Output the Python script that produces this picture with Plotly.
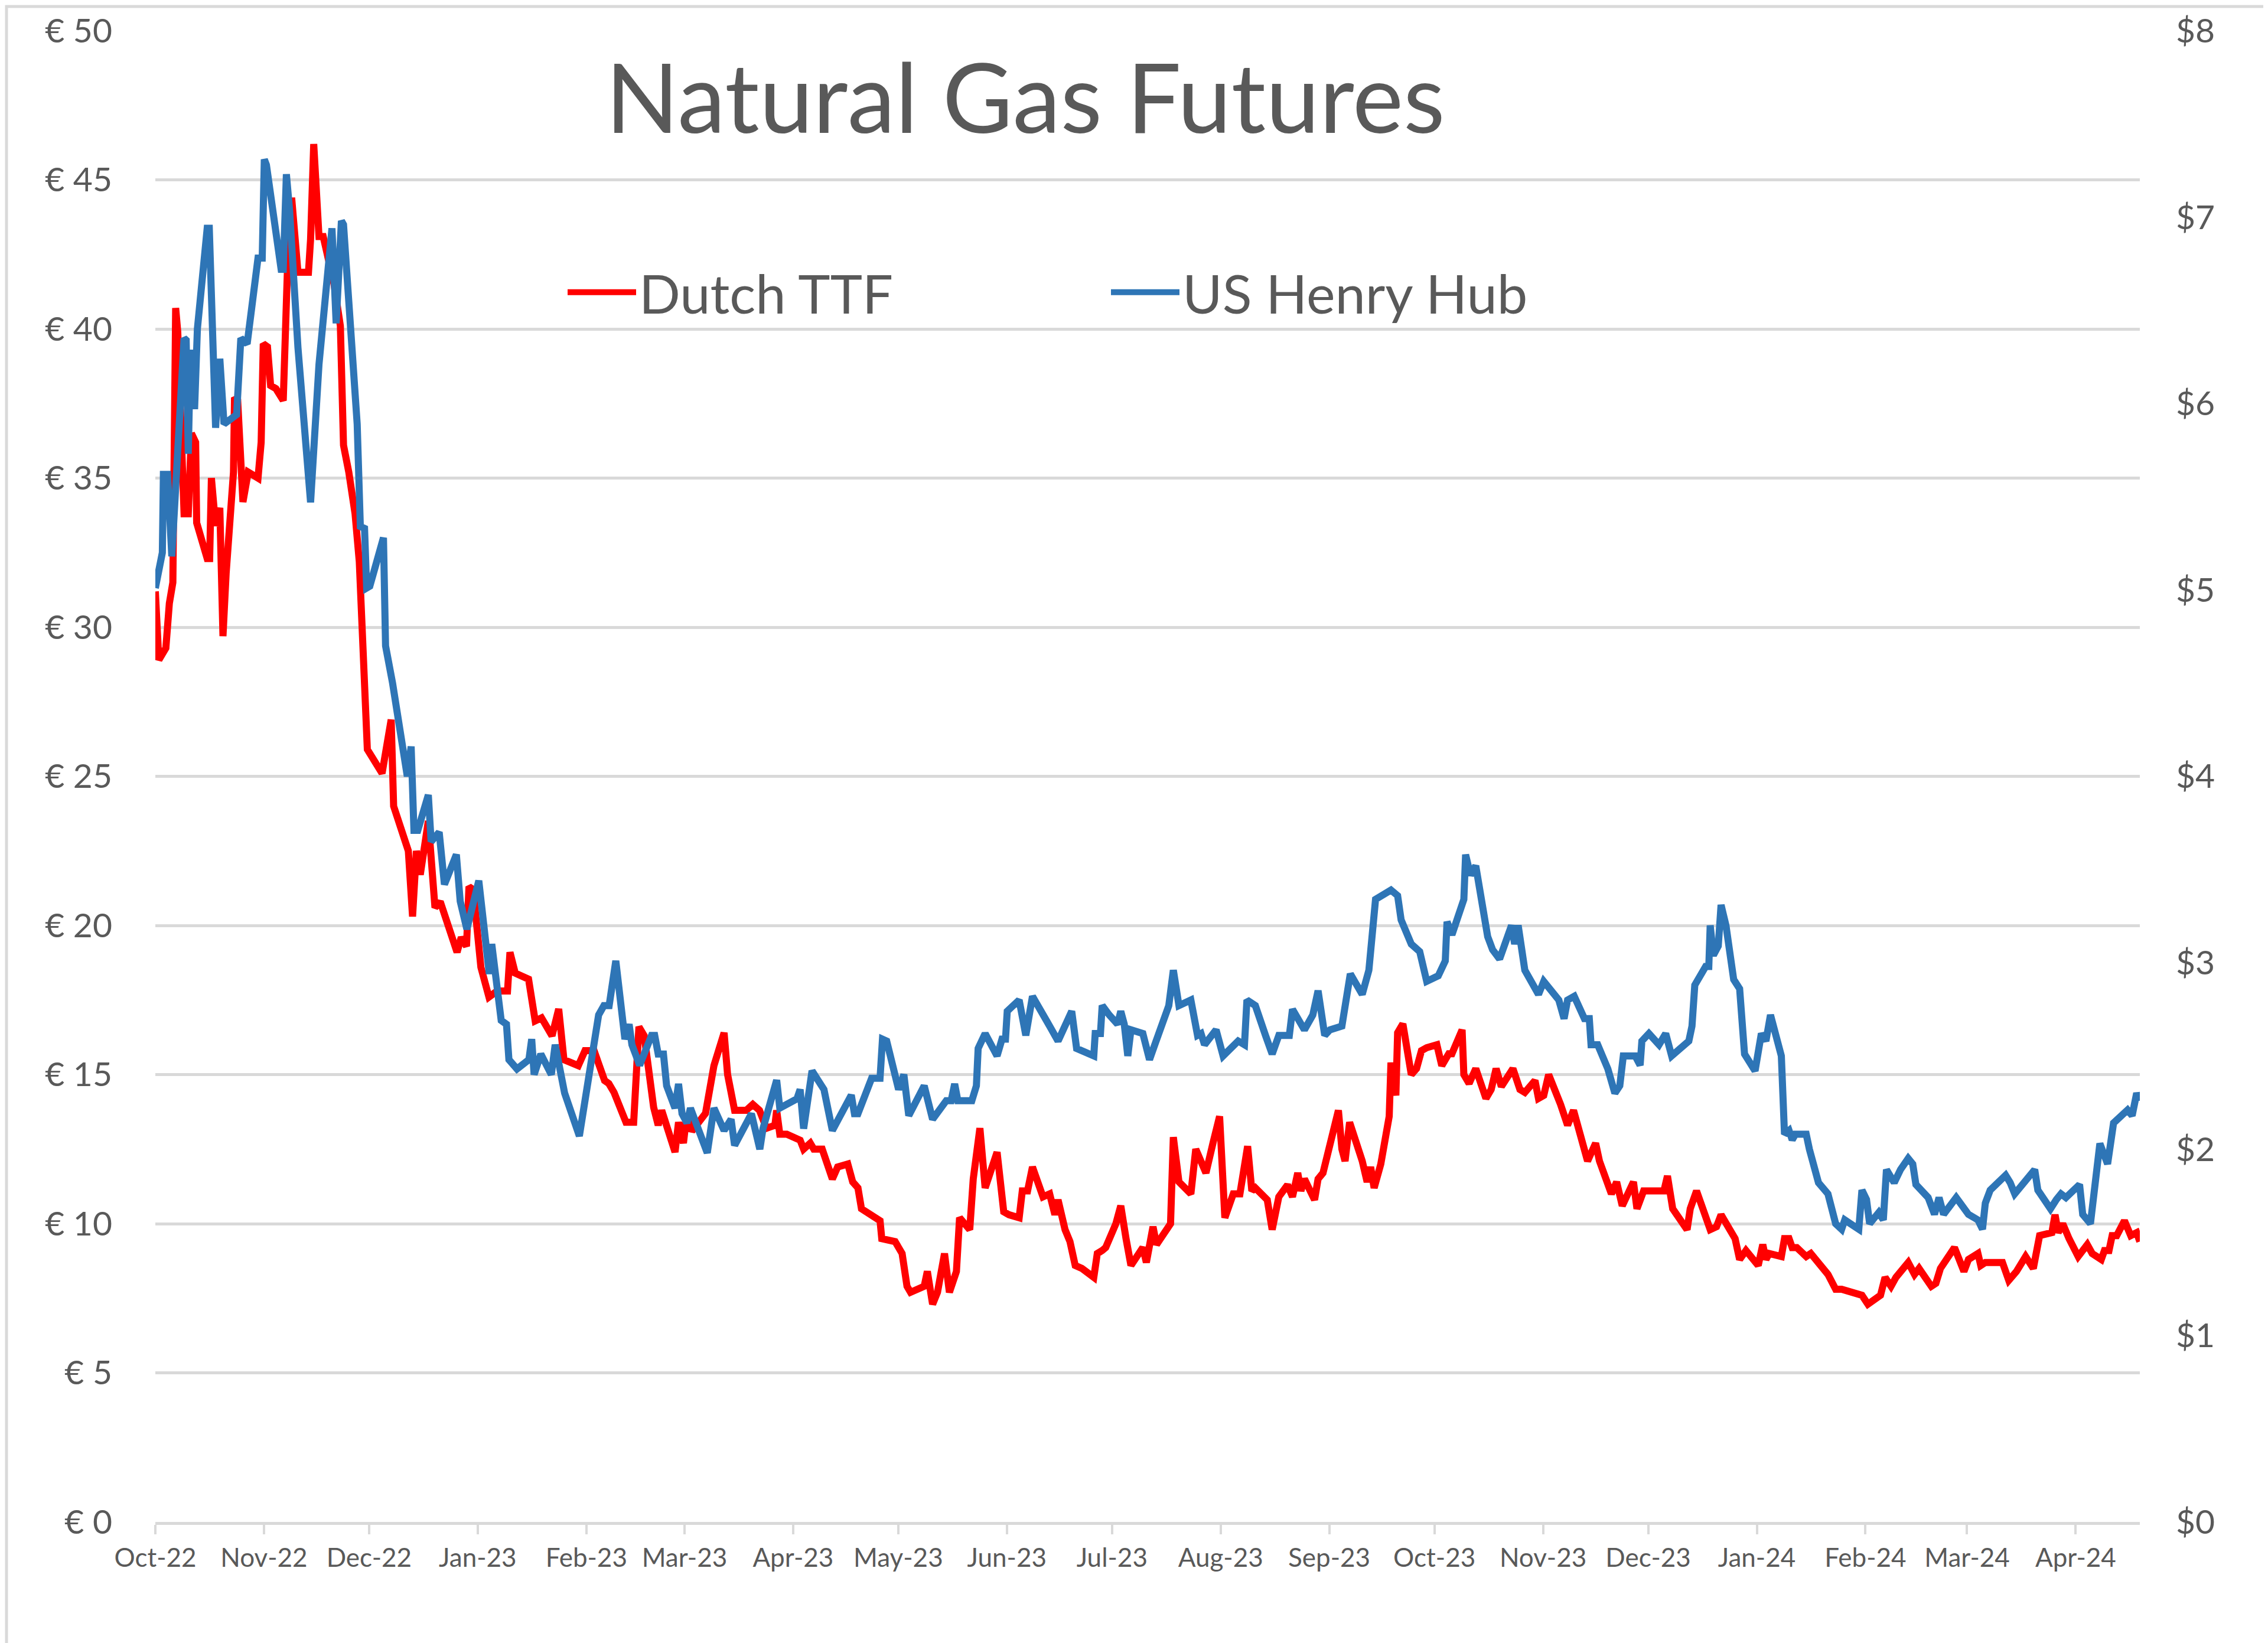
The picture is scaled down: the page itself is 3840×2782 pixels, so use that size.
import pandas as pd
import plotly.graph_objects as go

# ---- Data ----
start_date = "2022-10-01"

# Dutch TTF front-month, EUR/MWh : (days since 2022-10-01, value)
ttf_points = [
    (0, 31.2), (1, 28.9), (3, 29.3), (4, 30.8), (5, 31.5), (5.8, 40.7), (6.4, 39.9), (7.6, 36.1),
    (8.2, 33.8), (9.4, 33.8), (10.3, 36.5), (11.5, 36.2), (11.8, 33.5), (14.8, 32.3), (15.5, 32.3),
    (16, 35), (17.2, 33.4), (18.4, 34), (19.3, 29.7), (20.2, 31.8), (22.3, 35.2), (22.6, 37.7),
    (23.5, 37.6), (25, 34.2), (26.5, 35.2), (29.3, 35), (30.2, 36.2), (30.8, 39.5), (32, 39.4),
    (32.9, 38.1), (34.4, 38), (36.5, 37.6), (37.7, 42), (38.9, 44.4), (40.7, 41.9), (43.7, 41.9),
    (44.3, 43), (45.2, 46.2), (46.7, 43.1), (47.9, 43.1), (49.7, 42.3), (51, 41.5), (52.8, 40.1),
    (53.7, 36.1), (55.2, 35.2), (57, 33.8), (58.2, 32.2), (59.4, 29.3), (60.5, 25.9), (64.7, 25.1),
    (67.3, 26.9), (68, 24), (72.2, 22.5), (73.4, 20.3), (74.5, 22.5), (75.6, 21.7), (77.9, 23.5),
    (79.8, 20.6), (81.3, 20.8), (86.1, 19.1), (87.3, 19.6), (88.8, 19.3), (89.5, 21.3), (90.7, 21.2),
    (92.9, 18.6), (95.2, 17.6), (97.5, 17.8), (100.5, 17.8), (101.2, 19.1), (102.7, 18.4),
    (106.5, 18.2), (108.4, 16.8), (110.2, 16.9), (113.2, 16.3), (115.1, 17.2), (116.6, 15.5),
    (120.7, 15.3), (122.6, 15.8), (125.2, 15.8), (128.2, 14.8), (129.4, 14.7), (130.9, 14.4),
    (134.3, 13.4), (136.5, 13.4), (138, 16.6), (139.5, 16.3), (142.2, 13.9), (143.5, 13.3),
    (144.5, 13.8), (148.3, 12.4), (149.3, 13.4), (150.7, 12.7), (151.7, 13.7), (153.1, 13.1),
    (155.6, 13.5), (157, 13.7), (159.4, 15.3), (162.3, 16.4), (163.3, 15), (165.3, 13.8),
    (168.6, 13.8), (170.5, 14), (172.4, 13.8), (174.4, 13.2), (176.8, 13.3), (177.3, 13.8),
    (178.2, 13), (180.2, 13), (184, 12.8), (185, 12.5), (186.9, 12.7), (187.9, 12.5), (190.3, 12.5),
    (191.8, 12), (193.2, 11.5), (194.7, 11.9), (197.6, 12), (199, 11.4), (200.5, 11.2), (201.5, 10.5),
    (204.4, 10.3), (206.8, 10.1), (207.3, 9.5), (211.1, 9.4), (213.1, 9), (214.5, 7.9), (215.5, 7.7),
    (219.4, 7.9), (220.3, 8.4), (221.8, 7.3), (223.2, 7.7), (225.2, 9), (226.6, 7.7), (228.6, 8.4),
    (229.5, 10.2), (232.4, 9.8), (233.4, 11.5), (235.3, 13.2), (236.8, 11.2), (240.2, 12.4),
    (242.1, 10.4), (243.6, 10.3), (246.5, 10.2), (247.4, 11.1), (248.9, 11.1), (250.3, 11.9),
    (253.3, 10.9), (255.2, 11), (256.7, 10.3), (257.6, 10.8), (259.6, 9.8), (261, 9.4), (262.5, 8.6),
    (264.4, 8.5), (267.8, 8.2), (268.8, 9), (270.2, 9.1), (271.2, 9.2), (274.1, 10), (275.5, 10.6),
    (277, 9.5), (278.4, 8.6), (281.8, 9.2), (282.8, 8.7), (284.7, 9.9), (285.7, 9.3), (289.7, 10),
    (290.5, 12.9), (292.1, 11.4), (295.5, 11), (296.9, 12.5), (299.8, 11.7), (301.8, 12.7),
    (303.7, 13.6), (305.2, 10.2), (307.6, 11), (309.5, 11), (311.7, 12.6), (312.9, 11.1),
    (313.9, 11.2), (317.3, 10.8), (318.7, 9.8), (320.6, 10.9), (323.1, 11.3), (324.5, 10.9),
    (326, 11.7), (326.9, 11.1), (327.9, 11.5), (330.8, 10.8), (331.8, 11.5), (333.2, 11.7),
    (334.7, 12.4), (337.6, 13.8), (338.6, 12.5), (339.5, 12.1), (340.8, 13.4), (342.9, 12.7),
    (344.4, 12.1), (345.8, 11.4), (346.8, 11.9), (347.8, 11.2), (349.7, 12), (352.1, 13.6),
    (352.6, 15.4), (354, 14.3), (354.5, 16.4), (356, 16.7), (358.4, 15), (359.9, 15.2), (361.3, 15.8),
    (362.8, 15.9), (365.7, 16), (367.1, 15.3), (369.1, 15.7), (370, 15.7), (372.9, 16.5), (373.4, 15),
    (374.9, 14.7), (376.8, 15.2), (379.7, 14.2), (381.2, 14.5), (382.6, 15.2), (384.1, 14.6),
    (387.4, 15.2), (389.4, 14.5), (390.8, 14.4), (393.7, 14.8), (394.7, 14.2), (396.2, 14.3),
    (397.6, 15), (401, 14), (403, 13.3), (404.7, 13.8), (407.3, 12.7), (408.7, 12.1), (411, 12.7),
    (412.1, 12.1), (415.5, 11), (417, 11.4), (418.6, 10.6), (421.8, 11.4), (422.8, 10.5),
    (424.7, 11.1), (430.5, 11.1), (431.5, 11.6), (433, 10.5), (437.1, 9.8), (438, 10.5),
    (439.8, 11.1), (443.7, 9.8), (445.5, 9.9), (446.8, 10.3), (450.8, 9.5), (452.1, 8.8),
    (453.9, 9.1), (457.4, 8.6), (458.7, 9.3), (459.6, 8.8), (460.5, 9), (464, 8.9), (464.9, 9.5),
    (466.2, 9.5), (467.1, 9.2), (468.4, 9.2), (471.1, 8.9), (472.4, 9), (475.1, 8.6), (477.3, 8.3),
    (479.5, 7.8), (481.2, 7.8), (487, 7.6), (488.7, 7.3), (492.3, 7.6), (493.6, 8.2), (495.3, 7.9),
    (496.7, 8.2), (500.2, 8.7), (502, 8.3), (503.3, 8.5), (506.8, 7.9), (508.1, 8), (509.4, 8.5),
    (513.4, 9.2), (516.1, 8.4), (517.4, 8.8), (520.1, 9), (520.9, 8.6), (522.2, 8.7), (527.1, 8.7),
    (528.9, 8.1), (531.1, 8.4), (533.7, 8.9), (535.9, 8.5), (537.7, 9.6), (541.2, 9.7), (542.1, 10.3),
    (543, 9.7), (544.3, 10), (546.1, 9.5), (548.7, 8.9), (551.3, 9.3), (552.7, 9), (555.3, 8.8),
    (556.2, 9.1), (557.5, 9.1), (558.4, 9.6), (559.7, 9.6), (561.9, 10.1), (563.7, 9.6),
    (565.4, 9.7), (566.3, 9.4),
]

# US Henry Hub front-month, USD/MMBtu : (days since 2022-10-01, value)
hh_points = [
    (0, 5.01), (2, 5.2), (2.3, 5.62), (3.5, 5.62), (4.7, 5.18), (8.2, 6.35), (8.8, 6.34), (9.4, 5.73),
    (10, 6.27), (11, 6.27), (11.2, 5.97), (12, 6.4), (14.8, 6.94), (15.4, 6.94), (17.2, 5.87),
    (18.4, 6.24), (19.6, 5.89), (23.2, 5.94), (24.4, 6.35), (26.2, 6.32), (29.3, 6.78), (30.5, 6.78),
    (31.1, 7.31), (31.7, 7.28), (35.9, 6.72), (36.5, 6.72), (37.4, 7.23), (38.3, 7.04), (40.7, 6.3),
    (44.3, 5.47), (46.7, 6.21), (50.4, 6.94), (51.6, 6.43), (53.1, 6.98), (53.7, 6.96), (54.9, 6.59),
    (57.6, 5.89), (58.5, 5.34), (59.7, 5.33), (60.3, 5.01), (61.2, 5.02), (65.1, 5.28), (65.7, 4.7),
    (67.7, 4.5), (71.9, 4.0), (73, 4.16), (73.8, 3.71), (74.9, 3.71), (77.9, 3.9), (78.7, 3.65),
    (81, 3.7), (82.5, 3.42), (85.9, 3.58), (87, 3.33), (88.9, 3.18), (92.3, 3.44), (94.5, 3.1),
    (95.3, 2.94), (96, 3.1), (98.7, 2.69), (100.2, 2.67), (100.9, 2.48), (103.2, 2.43), (106.6, 2.48),
    (107.4, 2.59), (108.1, 2.4), (110, 2.51), (113, 2.4), (114.1, 2.56), (116.8, 2.3), (121, 2.07),
    (124.3, 2.46), (126.5, 2.72), (128, 2.77), (129.5, 2.77), (131.4, 3.01), (134, 2.59),
    (135.2, 2.67), (136, 2.56), (138.2, 2.45), (141.6, 2.61), (142.5, 2.61), (143.5, 2.51),
    (145, 2.51), (145.9, 2.34), (148.3, 2.22), (149.3, 2.35), (150.3, 2.19), (151.7, 2.14),
    (152.7, 2.22), (157.5, 1.98), (159.4, 2.22), (162.3, 2.1), (164.3, 2.16), (165.3, 2.02),
    (170.1, 2.19), (172.5, 2.0), (173.4, 2.11), (175.9, 2.26), (177.3, 2.37), (178.2, 2.22),
    (180.2, 2.24), (183.1, 2.27), (184, 2.32), (185, 2.11), (187.4, 2.42), (190.8, 2.32),
    (193.2, 2.1), (198.6, 2.29), (199.5, 2.19), (200.5, 2.19), (204.4, 2.38), (206.8, 2.38),
    (207.5, 2.59), (208.7, 2.58), (212.1, 2.32), (213.6, 2.4), (215, 2.18), (219.4, 2.34),
    (221.8, 2.16), (225.7, 2.26), (227.1, 2.26), (228.1, 2.35), (229, 2.26), (233, 2.26),
    (234.3, 2.34), (234.8, 2.54), (236.8, 2.62), (240.2, 2.5), (241.6, 2.59), (242.6, 2.59),
    (243.1, 2.74), (246.5, 2.8), (248.4, 2.61), (250.3, 2.82), (255.2, 2.66), (257.6, 2.58),
    (261.5, 2.74), (262.9, 2.54), (267.8, 2.5), (268.2, 2.62), (269.7, 2.62), (270.2, 2.77),
    (272.2, 2.72), (274.6, 2.67), (275.5, 2.74), (276.5, 2.67), (277.5, 2.5), (278.4, 2.64),
    (281.8, 2.62), (283.7, 2.48), (285.2, 2.56), (289.2, 2.77), (290.5, 2.96), (292.1, 2.77),
    (295.5, 2.8), (297.4, 2.61), (298.4, 2.62), (299.4, 2.56), (302.7, 2.64), (304.7, 2.5),
    (309, 2.58), (310.8, 2.56), (311.5, 2.8), (313.9, 2.77), (316.8, 2.61), (318.7, 2.51),
    (320.6, 2.61), (323.6, 2.61), (324.5, 2.75), (326, 2.7), (327.9, 2.64), (330.3, 2.72),
    (331.8, 2.85), (333.7, 2.61), (335.2, 2.64), (338.6, 2.66), (341, 2.94), (344.4, 2.83),
    (346.3, 2.96), (348.2, 3.34), (352.6, 3.39), (354.5, 3.36), (355.5, 3.23), (358.4, 3.1),
    (360.8, 3.06), (362.8, 2.9), (366.1, 2.93), (368.1, 3.01), (368.6, 3.22), (370, 3.15),
    (373.4, 3.34), (373.9, 3.58), (375.3, 3.47), (376.8, 3.52), (380.2, 3.14), (381.6, 3.07),
    (383.6, 3.02), (387, 3.2), (387.9, 3.1), (388.9, 3.2), (390.8, 2.96), (394.7, 2.83),
    (396.2, 2.9), (400.5, 2.8), (402, 2.7), (403, 2.8), (404.9, 2.82), (407.8, 2.7), (409.2, 2.7),
    (409.7, 2.56), (411.6, 2.56), (414.5, 2.43), (416.5, 2.3), (417.9, 2.34), (418.9, 2.5),
    (422.3, 2.5), (423.7, 2.45), (424.2, 2.58), (426.2, 2.62), (429.1, 2.56), (431, 2.62),
    (432.7, 2.5), (437.6, 2.58), (438.5, 2.66), (439.3, 2.88), (442.4, 2.98), (443.3, 2.98),
    (443.7, 3.2), (444.6, 3.04), (446, 3.09), (446.8, 3.31), (448.2, 3.2), (450.4, 2.91),
    (452.1, 2.86), (453.5, 2.51), (456.5, 2.42), (458.3, 2.62), (459.6, 2.58), (460.9, 2.72),
    (464, 2.5), (464.9, 2.08), (466.2, 2.1), (467.1, 2.05), (468, 2.08), (471.1, 2.08), (472, 2.0),
    (474.6, 1.82), (477.3, 1.76), (479.5, 1.6), (481.2, 1.57), (482.1, 1.62), (486.1, 1.57),
    (487, 1.78), (488.3, 1.73), (489.2, 1.6), (491.8, 1.66), (493.1, 1.62), (494, 1.89),
    (496.2, 1.82), (498, 1.89), (500.2, 1.95), (501.5, 1.92), (502.4, 1.81), (505.9, 1.74),
    (507.7, 1.65), (509, 1.74), (510.3, 1.65), (513.9, 1.74), (517.4, 1.65), (520.1, 1.62),
    (521.4, 1.57), (522.2, 1.71), (523.6, 1.78), (528, 1.86), (529.3, 1.82), (530.6, 1.76),
    (536.3, 1.89), (537.2, 1.78), (540.8, 1.68), (542.5, 1.73), (543.8, 1.76), (545.2, 1.74),
    (549.1, 1.81), (550, 1.65), (552.2, 1.6), (554.9, 2.03), (557.1, 1.92), (558.8, 2.14),
    (562.8, 2.21), (564.1, 2.18), (565.4, 2.3), (566.3, 2.26),
]

month_ticks = pd.date_range("2022-10-01", "2024-04-01", freq="MS")
eur_ticks = [0, 5, 10, 15, 20, 25, 30, 35, 40, 45, 50]
eur_labels = ["€ 0", "€ 5", "€ 10", "€ 15", "€ 20", "€ 25", "€ 30", "€ 35", "€ 40", "€ 45", "€ 50"]
usd_ticks = [0, 1, 2, 3, 4, 5, 6, 7, 8]
usd_labels = ["$0", "$1", "$2", "$3", "$4", "$5", "$6", "$7", "$8"]

series_names = ["Dutch TTF", "US Henry Hub"]
series_colors = ["#FF0000", "#2E75B6"]

# ---- Build ----
t0 = pd.Timestamp(start_date)
ttf_days, ttf_eur = zip(*ttf_points)
hh_days, hh_usd = zip(*hh_points)
ttf_dates = t0 + pd.to_timedelta(list(ttf_days), unit="D")
hh_dates = t0 + pd.to_timedelta(list(hh_days), unit="D")

FONT = "Lato"
GREY_TXT = "#595959"
GRID = "#D9D9D9"
LW = 12

fig = go.Figure()
fig.add_trace(go.Scatter(
    x=ttf_dates, y=list(ttf_eur), name=series_names[0], mode="lines",
    line=dict(color=series_colors[0], width=LW), yaxis="y", legend="legend",
    showlegend=True,
))
fig.add_trace(go.Scatter(
    x=hh_dates, y=list(hh_usd), name=series_names[1], mode="lines",
    line=dict(color=series_colors[1], width=LW), yaxis="y2", legend="legend2",
    showlegend=True,
))

W, H = 3840, 2782
L, R, T, B = 255, 225, 44, 213
pw, ph = W - L - R, H - T - B

def px_x(x):
    return (x - L) / pw

def px_y(y):
    return (H - B - y) / ph

legend_common = dict(
    orientation="h", yanchor="middle", xanchor="left",
    font=dict(family=FONT, size=92, color=GREY_TXT),
    itemwidth=116, bgcolor="rgba(0,0,0,0)", borderwidth=0,
    itemclick=False, itemdoubleclick=False,
)

fig.update_layout(
    width=W, height=H,
    showlegend=True,
    margin=dict(l=L, r=R, t=T, b=B, autoexpand=False),
    paper_bgcolor="white", plot_bgcolor="white",
    font=dict(family=FONT, color=GREY_TXT),
    title=dict(
        text="Natural Gas Futures", x=1728 / W, y=1 - 160 / H,
        xref="container", yref="container", xanchor="center", yanchor="middle",
        font=dict(family=FONT, size=163, color=GREY_TXT),
    ),
    legend=dict(x=px_x(948), y=px_y(487), **legend_common),
    legend2=dict(x=px_x(1868), y=px_y(487), **legend_common),
    xaxis=dict(
        type="date", automargin=False,
        range=[ttf_dates[0], ttf_dates[-1]],
        tickvals=list(month_ticks), tickformat="%b-%y",
        ticks="outside", ticklen=16, tickwidth=4, tickcolor=GRID,
        showline=True, linecolor=GRID, linewidth=5,
        showgrid=False, zeroline=False,
        tickfont=dict(family=FONT, size=44, color=GREY_TXT),
        ticklabelstandoff=2,
    ),
    yaxis=dict(
        automargin=False,
        range=[0, 50], tickvals=eur_ticks, ticktext=eur_labels,
        showgrid=True, gridcolor=GRID, gridwidth=5,
        zeroline=False, showline=False, ticks="",
        tickfont=dict(family=FONT, size=57, color=GREY_TXT),
        ticklabelstandoff=72,
    ),
    yaxis2=dict(
        automargin=False,
        range=[0, 8], tickvals=usd_ticks, ticktext=usd_labels,
        overlaying="y", side="right", showgrid=False, zeroline=False,
        showline=False, ticks="",
        tickfont=dict(family=FONT, size=57, color=GREY_TXT),
        ticklabelstandoff=60,
    ),
    shapes=[dict(
        type="rect", xref="paper", yref="paper",
        x0=px_x(3), x1=px_x(3833), y0=px_y(2778), y1=px_y(3),
        line=dict(color=GRID, width=5), fillcolor="rgba(0,0,0,0)", layer="below",
    )],
)

fig.write_html("out.html")
